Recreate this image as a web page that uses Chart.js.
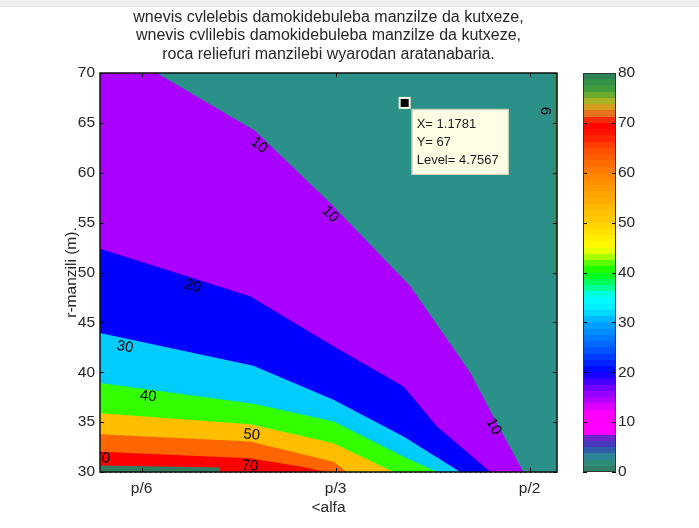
<!DOCTYPE html>
<html>
<head>
<meta charset="utf-8">
<title>contour</title>
<script src="https://cdn.jsdelivr.net/npm/chart.js"></script>
<style>
  html, body { margin: 0; padding: 0; background: #fff; }
  #page { position: relative; width: 699px; height: 528px; overflow: hidden; background: #fff; }
  #topbar { position: absolute; left: 0; top: 0; width: 699px; height: 6px; background: #efefef; border-bottom: 1px solid #e4e4e4; }
  #plot { position: absolute; left: 0; top: 0; }
  #cbar { position: absolute; left: 560px; top: 0; }
</style>
</head>
<body>
<div id="page">
  <canvas id="plot" width="699" height="528"></canvas>
  <canvas id="cbar" width="139" height="528"></canvas>
  <div id="topbar"></div>
</div>
<script>
// axes: alpha from pi/8 to pi/2, r from 30 to 70 m
const xMin = Math.PI / 8;
const xMax = Math.PI / 2;
const yMin = 30;
const yMax = 70;
const xTickValues = [0.5, 1.0, 1.5];
const xTickLabels = ['p/6', 'p/3', 'p/2'];
const yTickStep = 5;
const cbarMin = 0;
const cbarMax = 80;
const cbarTickStep = 10;

const titleLines = [
    'wnevis cvlelebis damokidebuleba manzilze da kutxeze,',
    'wnevis cvlilebis damokidebuleba manzilze da kutxeze,',
    'roca reliefuri manzilebi wyarodan aratanabaria.'
];

// contour edges (alpha, r), the area under each edge gets the band colour
const edge10X = [0.3927, 0.5387, 0.7924, 0.9937, 1.1925, 1.3474, 1.4068, 1.4842];
const edge10Y = [70, 70, 64.2, 56.66, 48.62, 39.95, 35.53, 30];
const edge20X = [0.3927, 0.7795, 0.9945, 1.1752, 1.2614, 1.3990];
const edge20Y = [52.38, 47.62, 42.60, 38.58, 34.56, 30];
const edge30X = [0.3927, 0.7880, 0.9945, 1.1752, 1.3215];
const edge30Y = [43.94, 40.65, 37.24, 33.55, 30];
const edge40X = [0.3927, 0.7880, 0.9945, 1.1752, 1.2614];
const edge40Y = [38.91, 36.83, 35.06, 31.54, 30];
const edge45X = [0.3927, 0.7795, 0.9945, 1.1494];
const edge45Y = [35.90, 34.79, 32.88, 30];
const edge55X = [0.3927, 0.7795, 0.9945, 1.0291];
const edge55Y = [33.79, 33.05, 31.04, 30];
const edge65X = [0.3927, 0.7795, 0.9086, 0.9775];
const edge65Y = [32.04, 31.37, 30.54, 30];
const edge75X = [0.3927, 0.7021, 0.7029];
const edge75Y = [30.64, 30.44, 30];
// thin sliver along the right border (top part)
const sliverX = [1.560, 1.5708];
const sliverY = [50, 50];

// contour labels
const labelText = ['10', '10', '20', '30', '40', '50', '70', '70', '10', '6'];
const labelX = [0.8028, 0.986, 0.6316, 0.4569, 0.517, 0.784, 0.7795, 0.3975, 1.4075, 1.541];
const labelY = [62.76, 55.83, 48.62, 42.53, 37.57, 33.72, 30.60, 31.38, 34.55, 66.2];
const labelAngle = [38, 44, 16, 10, 6, 6, 3, 4, 62, 90];

// data cursor
const tipX = 1.1781;
const tipY = 67;
const tipLevel = 4.7567;

// colormap of the colour bar
const cmapValues = [0, 1.5, 2.5, 3.5, 4.7, 6, 7.4, 8, 12, 14, 17, 20, 25, 30, 32.5, 35, 37, 40, 42, 43.5, 45, 50, 55, 60, 65, 68, 70, 71.25, 72.5, 73.75, 75, 76.25, 77.5, 78.75, 80];
const cmapColors = ['#2e7a5c', '#2e8a70', '#2b9088', '#2e80a0', '#3050b0', '#5030c0', '#8020d0', '#ff00ff', '#ff00ff', '#c000ff', '#7000ff', '#0000ff', '#0060ff', '#00a8ff', '#00e8ff', '#00ffff', '#00ff90', '#00ff00', '#60ff00', '#c0ff00', '#ffff00', '#ffd000', '#ffa800', '#ff8000', '#ff4800', '#ff1000', '#ff0000', '#e85818', '#e08a20', '#c8b020', '#8cb828', '#4aa038', '#389840', '#2f8a4c', '#2e7a5c'];

const fontFamily = "'Liberation Sans', Arial, sans-serif";
const textColor = '#262626';
Chart.defaults.font.family = fontFamily;
Chart.defaults.color = textColor;

function pts(xs, ys) {
    return xs.map((x, i) => ({ x: x, y: ys[i] }));
}

function band(xs, ys, color, order, fill) {
    return {
        data: pts(xs, ys),
        fill: fill || 'start',
        backgroundColor: color,
        borderWidth: 0,
        pointRadius: 0,
        tension: 0,
        order: order
    };
}

const contourDecor = {
    id: 'contourDecor',
    afterDatasetsDraw(chart) {
        const ctx = chart.ctx;
        const area = chart.chartArea;
        const sx = chart.scales.x, sy = chart.scales.y;
        ctx.save();
        ctx.beginPath();
        ctx.rect(area.left, area.top, area.right - area.left, area.bottom - area.top);
        ctx.clip();
        ctx.fillStyle = '#000';
        ctx.font = '15px ' + fontFamily;
        ctx.textAlign = 'center';
        ctx.textBaseline = 'middle';
        labelText.forEach((t, i) => {
            ctx.save();
            ctx.translate(sx.getPixelForValue(labelX[i]), sy.getPixelForValue(labelY[i]));
            ctx.rotate(labelAngle[i] * Math.PI / 180);
            ctx.fillText(t, 0, 0);
            ctx.restore();
        });

        // data tip
        const px = sx.getPixelForValue(tipX), py = sy.getPixelForValue(tipY);
        ctx.fillStyle = '#ffffe6';
        ctx.fillRect(px - 6, py - 6, 12, 12);
        ctx.fillStyle = '#000';
        ctx.fillRect(px - 4, py - 4, 8, 8);
        ctx.fillStyle = '#ffffe6';
        ctx.fillRect(px + 7, py + 6, 97, 66);
        ctx.strokeStyle = '#d0d0b8';
        ctx.lineWidth = 1;
        ctx.strokeRect(px + 7.5, py + 6.5, 96, 65);
        ctx.fillStyle = '#1a1a1a';
        ctx.font = '13px ' + fontFamily;
        ctx.textAlign = 'left';
        ctx.fillText('X= ' + tipX.toFixed(4), px + 12, py + 21);
        ctx.fillText('Y= ' + tipY, px + 12, py + 39.5);
        ctx.fillText('Level= ' + tipLevel.toFixed(4), px + 12, py + 57);
        ctx.restore();
    },
    afterDraw(chart) {
        const ctx = chart.ctx;
        const a = chart.chartArea;
        const sx = chart.scales.x, sy = chart.scales.y;
        ctx.save();
        ctx.strokeStyle = '#000';
        ctx.lineWidth = 1;
        ctx.beginPath();
        sx.ticks.forEach(t => {
            const p = Math.round(sx.getPixelForValue(t.value)) + 0.5;
            ctx.moveTo(p, a.bottom); ctx.lineTo(p, a.bottom - 4);
            ctx.moveTo(p, a.top); ctx.lineTo(p, a.top + 4);
        });
        sy.ticks.forEach(t => {
            const p = Math.round(sy.getPixelForValue(t.value)) + 0.5;
            ctx.moveTo(a.left, p); ctx.lineTo(a.left + 4, p);
            ctx.moveTo(a.right, p); ctx.lineTo(a.right - 4, p);
        });
        ctx.stroke();
        ctx.strokeStyle = '#111';
        ctx.lineWidth = 1.5;
        ctx.strokeRect(a.left, a.top, a.right - a.left, a.bottom - a.top);
        ctx.restore();
    }
};

new Chart(document.getElementById('plot'), {
    type: 'line',
    data: {
        datasets: [
            band([xMin, xMax], [yMax, yMax], '#2b9088', 20),
            band(sliverX, sliverY, '#3b8b5a', 19, 'end'),
            band(edge10X, edge10Y, '#aa00ff', 10),
            band(edge20X, edge20Y, '#0000ff', 9),
            band(edge30X, edge30Y, '#00ccff', 8),
            band(edge40X, edge40Y, '#33ff00', 7),
            band(edge45X, edge45Y, '#ffbf00', 6),
            band(edge55X, edge55Y, '#ff6600', 5),
            band(edge65X, edge65Y, '#ff0000', 4),
            band(edge75X, edge75Y, '#2f7e60', 3)
        ]
    },
    options: {
        responsive: false,
        animation: false,
        events: [],
        layout: { padding: { left: 0, right: 142, top: 0, bottom: 0 } },
        plugins: {
            legend: { display: false },
            tooltip: { enabled: false },
            title: {
                display: true,
                fullSize: false,
                text: titleLines,
                color: textColor,
                font: { size: 16, weight: 'normal', lineHeight: 1.15625 },
                padding: { top: 8, bottom: 9.5 }
            }
        },
        scales: {
            x: {
                type: 'linear',
                min: xMin,
                max: xMax,
                z: 1,
                afterBuildTicks: s => { s.ticks = xTickValues.map(v => ({ value: v })); },
                afterFit: s => { s.height = 56; },
                ticks: {
                    autoSkip: false,
                    maxRotation: 0,
                    padding: 7,
                    font: { size: 15.5 },
                    callback: (v, i) => xTickLabels[i]
                },
                grid: { color: '#1a1a1a', drawTicks: false },
                border: { display: false, dash: [1.5, 3.5] },
                title: { display: true, text: '<alfa', font: { size: 15.5 }, padding: { top: 0, bottom: 10.7 } }
            },
            y: {
                min: yMin,
                max: yMax,
                z: 1,
                afterFit: s => { s.width = 100; },
                ticks: { stepSize: yTickStep, padding: 5, font: { size: 15.5 } },
                grid: { color: '#1a1a1a', drawTicks: false },
                border: { display: false, dash: [1.5, 3.5] },
                title: { display: true, text: 'r-manzili (m).', font: { size: 15.5 }, padding: { top: 62.7, bottom: 0 } }
            }
        }
    },
    plugins: [contourDecor]
});

// colour bar
function hexToRgb(h) {
    const n = parseInt(h.slice(1), 16);
    return [(n >> 16) & 255, (n >> 8) & 255, n & 255];
}

function cmapColor(v) {
    let i = 1;
    while (i < cmapValues.length - 1 && cmapValues[i] < v) i++;
    const t = (v - cmapValues[i - 1]) / (cmapValues[i] - cmapValues[i - 1]);
    const a = hexToRgb(cmapColors[i - 1]), b = hexToRgb(cmapColors[i]);
    return 'rgb(' + a.map((c, k) => Math.round(c + (b[k] - c) * t)).join(',') + ')';
}

function colorbarFill(chart) {
    const area = chart.chartArea;
    if (!area) return cmapColors[0];
    const g = chart.ctx.createLinearGradient(0, area.bottom, 0, area.top);
    const steps = 64;
    for (let k = 0; k < steps; k++) {
        const col = cmapColor(cbarMin + (k + 0.5) * (cbarMax - cbarMin) / steps);
        g.addColorStop(k / steps, col);
        g.addColorStop((k + 1) / steps - 0.0001, col);
    }
    return g;
}

const cbarFrame = {
    id: 'cbarFrame',
    afterDraw(chart) {
        const ctx = chart.ctx;
        const a = chart.chartArea;
        const sy = chart.scales.y;
        ctx.save();
        ctx.strokeStyle = '#000';
        ctx.lineWidth = 1;
        ctx.beginPath();
        sy.ticks.forEach(t => {
            const p = Math.round(sy.getPixelForValue(t.value)) + 0.5;
            ctx.moveTo(a.left, p); ctx.lineTo(a.left + 4, p);
            ctx.moveTo(a.right, p); ctx.lineTo(a.right - 4, p);
        });
        ctx.stroke();
        ctx.strokeStyle = '#333';
        ctx.strokeRect(a.left + 0.5, a.top + 0.5, a.right - a.left - 1, a.bottom - a.top - 1);
        ctx.restore();
    }
};

new Chart(document.getElementById('cbar'), {
    type: 'bar',
    data: {
        labels: [''],
        datasets: [{
            data: [[cbarMin, cbarMax]],
            backgroundColor: c => colorbarFill(c.chart),
            borderWidth: 0,
            barPercentage: 1,
            categoryPercentage: 1
        }]
    },
    options: {
        responsive: false,
        animation: false,
        events: [],
        layout: { padding: { left: 23, right: 0, top: 73, bottom: 56 } },
        plugins: { legend: { display: false }, tooltip: { enabled: false } },
        scales: {
            x: { display: false },
            y: {
                position: 'right',
                min: cbarMin,
                max: cbarMax,
                afterFit: s => { s.width = 83; },
                ticks: { stepSize: cbarTickStep, padding: 2, font: { size: 15.5 } },
                grid: { display: false, drawTicks: false },
                border: { display: false }
            }
        }
    },
    plugins: [cbarFrame]
});
</script>
</body>
</html>
